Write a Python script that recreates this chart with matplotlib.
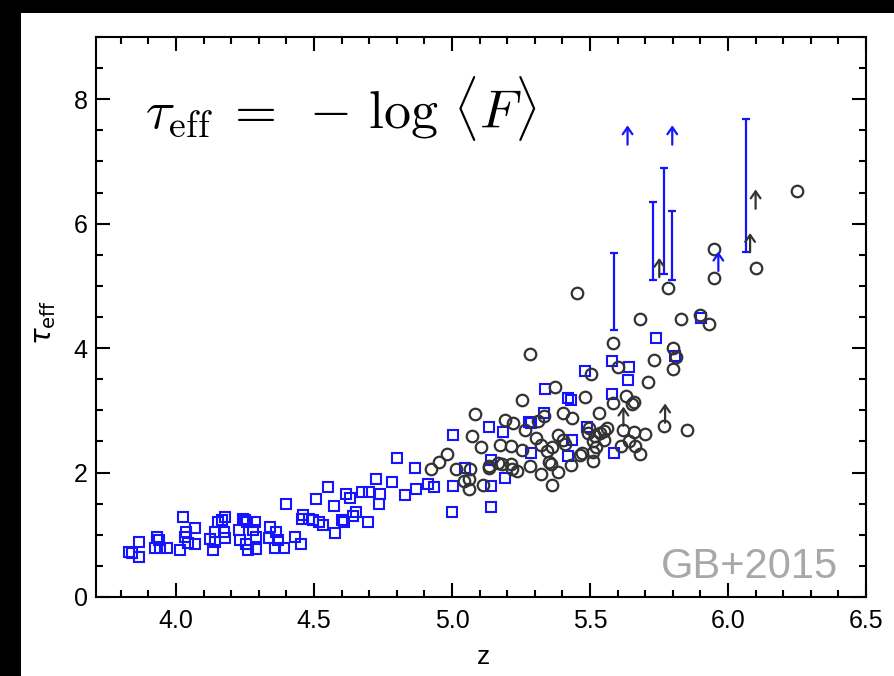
import matplotlib
matplotlib.use("Agg")
import matplotlib.pyplot as plt
from matplotlib.patches import Rectangle
from matplotlib.ticker import MultipleLocator, FormatStrFormatter

# Effective optical depth measurements (circles)
circ_z = [5.283, 5.373, 5.252, 5.083, 5.403, 5.334, 5.313, 5.193, 5.222, 5.264,
          5.074, 5.104, 5.174, 5.214, 5.252, 5.304, 5.322, 5.363, 5.343, 5.385,
          5.403, 5.409, 4.983, 4.954, 4.924, 5.013, 5.065, 5.133, 5.135, 5.168,
          5.180, 5.214, 5.216, 5.234, 5.283, 5.321, 5.351, 5.360, 5.383, 5.362,
          5.045, 5.063, 5.063, 5.114, 5.431, 5.464, 5.472, 5.512, 5.512, 5.522,
          5.551, 5.611, 5.641, 5.663, 5.681, 5.701, 5.769, 5.850, 5.621, 5.661,
          5.560, 5.536, 5.518, 5.497, 5.552, 5.512, 5.433, 5.482, 5.582, 5.630,
          5.651, 5.659, 5.531, 5.502, 5.711, 5.601, 5.732, 5.802, 5.810, 5.801,
          5.452, 5.582, 5.681, 5.782, 5.831, 5.900, 5.931, 5.950, 5.950, 6.100,
          6.250, 5.494]
circ_tau = [3.90, 3.37, 3.16, 2.94, 2.96, 2.91, 2.83, 2.85, 2.80, 2.68,
            2.59, 2.41, 2.44, 2.42, 2.37, 2.56, 2.45, 2.41, 2.34, 2.60,
            2.53, 2.46, 2.30, 2.17, 2.06, 2.06, 2.06, 2.08, 2.11, 2.16,
            2.14, 2.13, 2.06, 2.02, 2.11, 1.98, 2.17, 2.13, 2.01, 1.80,
            1.86, 1.89, 1.73, 1.80, 2.12, 2.29, 2.32, 2.18, 2.33, 2.41,
            2.53, 2.43, 2.50, 2.43, 2.30, 2.62, 2.75, 2.68, 2.68, 2.65,
            2.72, 2.64, 2.59, 2.72, 2.67, 2.50, 2.87, 3.21, 3.11, 3.23,
            3.10, 3.13, 2.96, 3.59, 3.45, 3.70, 3.81, 4.00, 3.85, 3.66,
            4.88, 4.08, 4.46, 4.96, 4.47, 4.54, 4.39, 5.13, 5.59, 5.29,
            6.52, 2.64]

# Effective optical depth measurements (squares)
sq_z = [3.831, 3.840, 3.865, 3.865, 3.931, 3.939, 3.924, 3.943, 3.966, 4.016,
        4.026, 4.036, 4.034, 4.045, 4.070, 4.070, 4.123, 4.133, 4.141, 4.142,
        4.152, 4.167, 4.179, 4.175, 4.179, 4.227, 4.232, 4.243, 4.250, 4.256,
        4.285, 4.278, 4.290, 4.254, 4.262, 4.291, 4.341, 4.362, 4.336, 4.368,
        4.358, 4.392, 4.400, 4.432, 4.454, 4.460, 4.455, 4.481, 4.495, 4.519,
        4.532, 4.507, 4.552, 4.572, 4.577, 4.601, 4.610, 4.615, 4.630, 4.640,
        4.652, 4.697, 4.675, 4.700, 4.725, 4.739, 4.737, 4.781, 4.802, 4.831,
        4.866, 4.870, 4.912, 4.933, 5.002, 5.000, 5.003, 5.047, 5.134, 5.141,
        5.143, 5.141, 5.186, 5.192, 5.279, 5.286, 5.286, 5.332, 5.338, 5.422,
        5.431, 5.422, 5.434, 5.482, 5.488, 5.579, 5.642, 5.637, 5.579, 5.588,
        5.738, 5.807, 5.901]
sq_tau = [0.73, 0.71, 0.89, 0.65, 0.96, 0.91, 0.79, 0.79, 0.79, 0.75,
          1.29, 1.05, 0.96, 0.87, 1.11, 0.85, 0.94, 0.76, 1.04, 0.89,
          1.21, 1.23, 1.29, 1.05, 0.95, 1.07, 0.92, 1.25, 1.23, 1.20,
          1.21, 1.08, 0.96, 0.85, 0.75, 0.77, 1.12, 1.05, 0.95, 0.92,
          0.79, 0.78, 1.50, 0.97, 0.85, 1.31, 1.25, 1.25, 1.24, 1.21,
          1.15, 1.58, 1.77, 1.46, 1.03, 1.24, 1.20, 1.65, 1.59, 1.30,
          1.36, 1.21, 1.69, 1.69, 1.89, 1.66, 1.50, 1.85, 2.24, 1.64,
          2.08, 1.74, 1.82, 1.76, 2.61, 1.36, 1.79, 2.07, 2.73, 2.20,
          1.79, 1.45, 2.65, 1.92, 2.81, 2.80, 2.31, 2.96, 3.35, 3.20,
          3.17, 2.27, 2.53, 3.64, 2.73, 3.79, 3.69, 3.48, 3.27, 2.31,
          4.16, 3.87, 4.48]

# Ranges (lower and upper bounds)
rng_z = [5.587, 5.729, 5.768, 5.798, 6.064]
rng_lo = [4.29, 5.10, 5.19, 5.10, 5.55]
rng_hi = [5.53, 6.35, 6.89, 6.20, 7.68]

# Lower limits
blue_lim_z = [5.636, 5.798, 5.965]
blue_lim_tau = [7.27, 7.27, 5.24]
black_lim_z = [5.751, 6.100, 6.080, 5.621, 5.772]
black_lim_tau = [5.14, 6.24, 5.54, 2.75, 2.80]

BLUE = "#1414ff"
DARK = "#333333"
ARROW_LEN = 0.31

plt.rcParams["font.family"] = ["Liberation Sans", "DejaVu Sans"]

fig = plt.figure(figsize=(8.95, 6.76), dpi=100)
fig.patch.set_facecolor("black")
fig.add_artist(Rectangle((21 / 895, 0), 1 - 21 / 895, 1 - 13 / 676,
                         transform=fig.transFigure, facecolor="white",
                         edgecolor="none", zorder=0))

ax = fig.add_axes([96 / 895, 79 / 676, 770 / 895, 560 / 676])
ax.set_facecolor("white")

ax.plot(sq_z, sq_tau, linestyle="none", marker="s", ms=6.5, mfc="none",
        mec=BLUE, mew=1.5, zorder=3)
ax.plot(circ_z, circ_tau, linestyle="none", marker="o", ms=8.3, mfc="none",
        mec=DARK, mew=1.6, zorder=3)

mid = [(lo + hi) / 2 for lo, hi in zip(rng_lo, rng_hi)]
ax.errorbar(rng_z, mid,
            yerr=[[m - lo for m, lo in zip(mid, rng_lo)],
                  [hi - m for m, hi in zip(mid, rng_hi)]],
            fmt="none", ecolor=BLUE, elinewidth=1.6, capsize=3, capthick=1.6,
            zorder=3)

for zs, ts, col in ((blue_lim_z, blue_lim_tau, BLUE),
                    (black_lim_z, black_lim_tau, DARK)):
    for z, t in zip(zs, ts):
        ax.annotate("", xy=(z, t + ARROW_LEN), xytext=(z, t),
                    arrowprops=dict(arrowstyle="->,head_length=0.5,head_width=0.35",
                                    color=col, lw=1.6, shrinkA=0, shrinkB=0),
                    zorder=4)

ax.set_xlim(3.71, 6.5)
ax.set_ylim(0, 9)
ax.xaxis.set_major_locator(MultipleLocator(0.5))
ax.xaxis.set_minor_locator(MultipleLocator(0.1))
ax.yaxis.set_major_locator(MultipleLocator(2))
ax.yaxis.set_minor_locator(MultipleLocator(0.5))
ax.xaxis.set_major_formatter(FormatStrFormatter("%.1f"))
ax.yaxis.set_major_formatter(FormatStrFormatter("%d"))

ax.tick_params(which="both", direction="in", top=True, right=True,
               width=1.5, labelsize=18, colors="black")
ax.tick_params(which="major", length=10)
ax.tick_params(which="minor", length=5)
ax.tick_params(axis="x", pad=9)
ax.tick_params(axis="y", pad=6)
for sp in ax.spines.values():
    sp.set_linewidth(1.5)

ax.set_xlabel("z", fontsize=19)
ax.xaxis.set_label_coords(0.503, -0.085)
ax.set_ylabel(r"$\tau_{\rm eff}$", fontsize=20, math_fontfamily="dejavusans",
              va="center")
ax.yaxis.set_label_coords(-0.066, 0.49)

ax.text(0.064, 0.873,
        r"$\tau_{\rm eff}\;=\;-\,\log\,\langle F\rangle$",
        transform=ax.transAxes, fontsize=39, math_fontfamily="cm",
        ha="left", va="center")
ax.text(0.964, 0.054, "GB+2015", transform=ax.transAxes, fontsize=30,
        color="#a8a8a8", ha="right", va="center")

fig.savefig("out.png", dpi=100, facecolor=fig.get_facecolor())
